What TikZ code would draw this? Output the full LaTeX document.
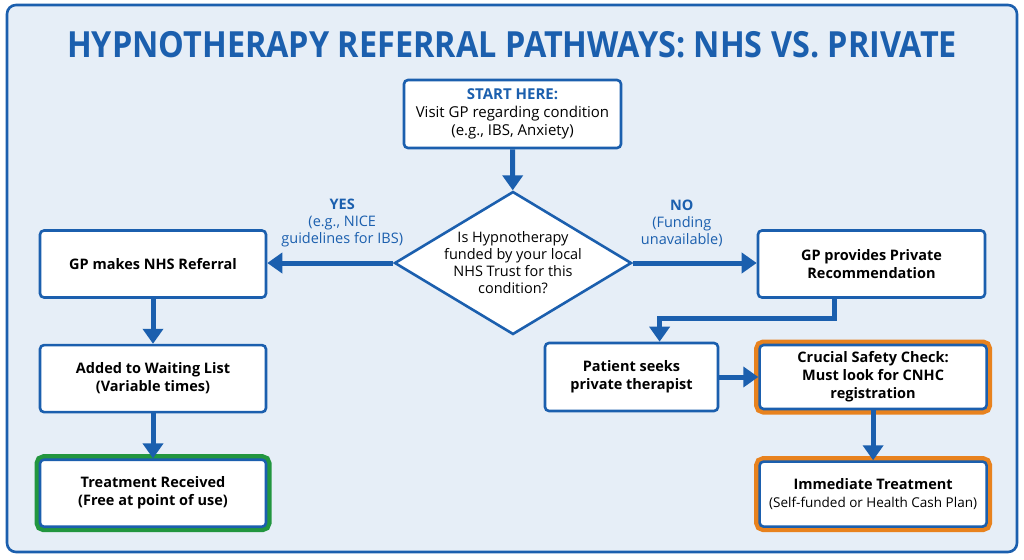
\documentclass[tikz,border=0pt]{standalone}
\usepackage{fontspec}
\setmainfont{Open Sans}
\newfontfamily\titlefont[FakeStretch=0.90]{Open Sans}
\usetikzlibrary{shapes.geometric, arrows.meta, positioning, calc, backgrounds}
\definecolor{pathblue}{HTML}{1B5FAE}
\definecolor{panelbg}{HTML}{E6EEF7}
\definecolor{okgreen}{HTML}{22963F}
\definecolor{warnorange}{HTML}{E8821E}

\begin{document}
\begin{tikzpicture}[
    x=1pt, y=-1pt,
    node distance=45pt and 39pt,
    every node/.style={font=\fontsize{14.5}{18}\selectfont},
    stepbox/.style={rectangle, rounded corners=4pt, draw=pathblue, line width=2.6pt, fill=white, minimum width=226pt, minimum height=67pt, align=center, font=\fontsize{14.5}{18}\selectfont\bfseries},
    goodbox/.style={stepbox, preaction={draw=okgreen, line width=11pt, rounded corners=5pt}},
    checkbox/.style={stepbox, minimum height=64pt, preaction={draw=warnorange, line width=11pt, rounded corners=5pt}},
    question/.style={diamond, draw=pathblue, line width=2.6pt, fill=white, aspect=1.66, inner sep=-8pt, minimum width=237pt, minimum height=143pt, align=center, font=\fontsize{14.5}{17}\selectfont},
    branch/.style={align=center, text=pathblue, font=\fontsize{14.5}{17}\selectfont},
    arrow/.style={-{Triangle[width=20pt, length=15pt]}, line width=5pt, pathblue}
]
\useasboundingbox (0,0) rectangle (1024,559);
\fill[white] (0,0) rectangle (1024,559);
\draw[pathblue, line width=2.6pt, fill=panelbg, rounded corners=9pt] (7,5) rectangle (1017,552);

% --- Title ---
\node[text=pathblue, font=\titlefont\fontsize{36}{40}\selectfont\bfseries] (title) at (512,45) {HYPNOTHERAPY REFERRAL PATHWAYS: NHS VS. PRIVATE};

% --- Start and decision ---
\node[stepbox, minimum width=217pt, minimum height=68pt, font=\fontsize{15}{18}\selectfont] (start) at (512.5,114)
    {\textcolor{pathblue}{\textbf{START HERE:}}\\Visit GP regarding condition\\(e.g., IBS, Anxiety)};
\node[question] (funded) at (513,263) {Is Hypnotherapy\\funded by your local\\NHS Trust for this\\condition?};

% --- NHS route (left column) ---
\node[stepbox] (nhsref) at (153,264) {GP makes NHS Referral};
\node[stepbox, below=of nhsref] (waitlist) {Added to Waiting List\\(Variable times)};
\node[goodbox, below=of waitlist] (freetreat) {Treatment Received\\(Free at point of use)};

% --- Private route (right side) ---
\node[stepbox, minimum width=227pt] (privrec) at (871.5,264) {GP provides Private\\Recommendation};
\node[stepbox, minimum width=173pt, minimum height=68pt] (seek) at (631.5,377) {Patient seeks\\private therapist};
\node[checkbox, minimum width=227pt, right=of seek] (cnhc) {Crucial Safety Check:\\Must look for CNHC\\registration};
\node[checkbox, minimum width=227pt, minimum height=65pt, below=50pt of cnhc] (paytreat)
    {Immediate Treatment\\{\fontsize{13.5}{16}\selectfont\mdseries(Self-funded or Health Cash Plan)}};
\coordinate (bend) at ($(seek.north west)!0.66!(seek.north east)$);

% --- Connections ---
\draw[arrow] (start) -- (funded);
\draw[arrow] (funded.west) -- (nhsref.east |- funded.west)
    node[branch, midway, above=10pt, xshift=12pt] (yeslbl) {\textbf{YES}\\(e.g., NICE\\guidelines for IBS)};
\draw[arrow] (funded.east) -- (privrec.west |- funded.east)
    node[branch, midway, above=10pt, xshift=-13pt] (nolbl) {\textbf{NO}\\(Funding\\unavailable)};
\draw[arrow] (nhsref) -- (waitlist);
\draw[arrow] (waitlist) -- (freetreat);
\draw[arrow] ([xshift=-37pt]privrec.south) -- ++(0,20) -| (bend);
\draw[arrow] (seek) -- (cnhc);
\draw[arrow] (cnhc) -- (paytreat);
\end{tikzpicture}
\end{document}
